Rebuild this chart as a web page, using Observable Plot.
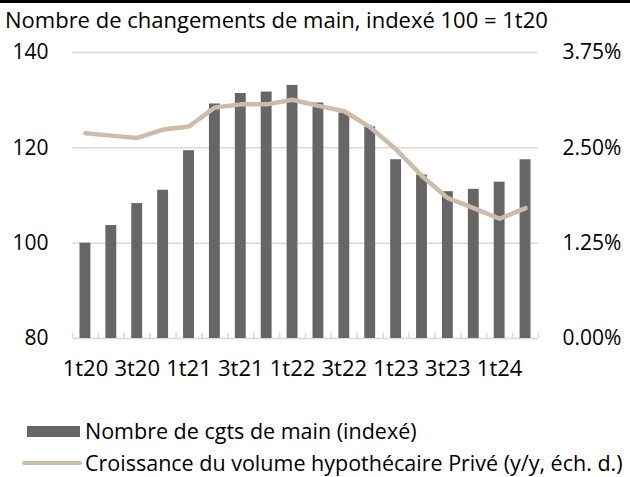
<!DOCTYPE html>
<html><head><meta charset="utf-8">
<script src="https://cdn.jsdelivr.net/npm/d3@7"></script>
<script src="https://cdn.jsdelivr.net/npm/@observablehq/plot@0.6"></script>
<style>
body{margin:0;background:#fff;font-family:"Open Sans",sans-serif;color:#000;}
#wrap{width:630px;height:477px;position:relative;overflow:hidden;}
#topline{position:absolute;left:0;top:0;width:630px;height:3px;background:#000;}
#title{position:absolute;left:5px;top:5px;font-size:22px;line-height:28px;white-space:nowrap;}
#chart{position:absolute;left:0;top:38px;}
.leg{position:absolute;left:0;font-size:21.5px;white-space:nowrap;height:28px;line-height:28px;}
.sw{position:absolute;}
</style></head>
<body><div id="wrap">
<div id="topline"></div>
<div id="title">Nombre de changements de main, indexé 100 = 1t20</div>
<div id="chart"></div>
<div class="leg" style="top:417px;"><div class="sw" style="left:27px;top:9px;width:53px;height:11px;background:#666666;"></div><span style="position:absolute;left:85px;">Nombre de cgts de main (indexé)</span></div>
<div class="leg" style="top:449px;"><div class="sw" style="left:22px;top:12px;width:60px;height:4px;border-radius:2px;background:#ccbca9;"></div><span style="position:absolute;left:85px;">Croissance du volume hypothécaire Privé (y/y, éch. d.)</span></div>
</div>
<script>
const quarters = ["1t20","2t20","3t20","4t20","1t21","2t21","3t21","4t21","1t22","2t22","3t22","4t22","1t23","2t23","3t23","4t23","1t24","2t24"];
const transactions = [100,103.7,108.3,111.1,119.4,129.2,131.4,131.7,133.1,129.4,127.3,124.4,117.5,114.3,110.8,111.3,112.8,117.5];
const mortgageGrowth = [2.69,2.66,2.63,2.74,2.78,3.03,3.07,3.07,3.13,3.05,2.98,2.77,2.48,2.13,1.84,1.71,1.57,1.71];
const leftTicks = [80,100,120,140];
const rightTicks = [0,1.25,2.5,3.75];
const xLabels = ["1t20","3t20","1t21","3t21","1t22","3t22","1t23","3t23","1t24"];

const barData = quarters.map((q,i)=>({q, v: transactions[i]}));
const lineData = quarters.map((q,i)=>({q, p: mortgageGrowth[i]}));
// right axis maps 0..3.75% onto 80..140
const toLeft = p => 80 + p * (60/3.75);

const bw = 466/18;
const plot = Plot.plot({
  width: 630, height: 345,
  marginLeft: 72, marginRight: 92, marginTop: 14, marginBottom: 45,
  style: {fontFamily: "Open Sans, sans-serif", fontSize: "21px", color: "#000", background: "transparent"},
  x: {type: "band", domain: quarters, paddingInner: 0, paddingOuter: 0, round: false},
  y: {domain: [80, 140]},
  marks: [
    Plot.ruleY(leftTicks, {stroke: "#d9d9d9", strokeWidth: 1.5}),
    Plot.ruleX(quarters, {x: d => d, dx: -bw/2, y1: 80, y2: 81.1, stroke: "#d9d9d9", strokeWidth: 1.5}),
    Plot.ruleX([quarters[quarters.length-1]], {x: d => d, dx: bw/2, y1: 80, y2: 81.1, stroke: "#d9d9d9", strokeWidth: 1.5}),
    Plot.barY(barData, {x: "q", y1: 80, y2: "v", fill: "#666666", insetLeft: 7.5, insetRight: 7.5}),
    Plot.line(lineData, {x: "q", y: d => toLeft(d.p), stroke: "#ccbca9", strokeWidth: 4.5, strokeLinejoin: "round", strokeLinecap: "round"}),
    Plot.axisY(leftTicks, {anchor: "left", tickSize: 0, tickPadding: 24, label: null}),
    Plot.axisY(rightTicks.map(toLeft), {anchor: "right", tickSize: 0, tickPadding: 24, label: null, tickFormat: v => ((v-80)*3.75/60).toFixed(2) + "%"}),
    Plot.axisX(xLabels, {tickSize: 0, tickPadding: 22, label: null, fontSize: 22})
  ]
});
document.getElementById("chart").appendChild(plot);
</script>
</body></html>
